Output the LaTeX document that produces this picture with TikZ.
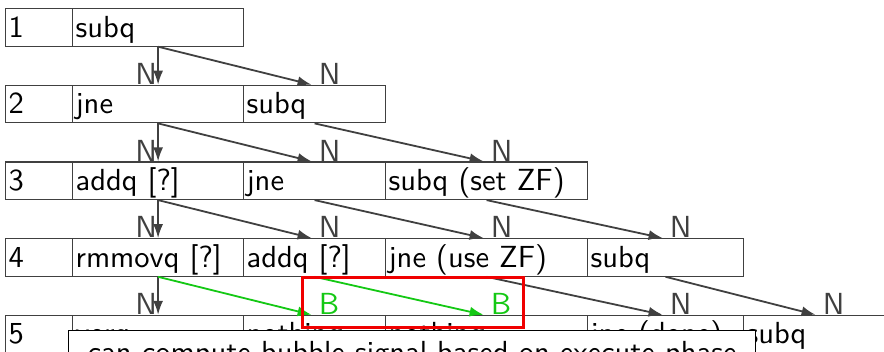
\documentclass[tikz,border=0pt]{standalone}
\usetikzlibrary{arrows.meta}
\definecolor{linegray}{RGB}{64,64,64}
\definecolor{bgreen}{RGB}{20,200,20}
\definecolor{hlred}{RGB}{240,0,0}
% Latin Modern Sans, 10pt design size, enlarged for slides
\font\slidefont="[lmsans10-regular]:mapping=tex-text" at 30.5pt
% one pipeline cell: name, left x, top y, width, text
\newcommand\pipecell[5]{%
  \node[cell, text width=#4pt-6pt] (#1) at (#2,#3) {#5};}
\begin{document}
\begin{tikzpicture}[x=1pt,y=-1pt,
  every node/.style={font=\slidefont},
  cell/.style={draw=linegray, line width=1.2pt, anchor=north west,
    inner xsep=3pt, inner ysep=0pt, minimum height=37.5pt,
    text height=28.4pt, text depth=9.1pt, align=left},
  arr/.style={draw=linegray, line width=1.8pt,
    -{Latex[length=14pt,width=10pt]}},
  barr/.style={arr, draw=bgreen},
  nlab/.style={text=linegray, inner sep=0pt},
  blab/.style={text=bgreen, inner sep=0pt},
  note/.style={draw=black, line width=1.2pt, fill=white, anchor=north west,
    inner xsep=16pt, inner ysep=0pt, text height=32pt, text depth=10pt,
    minimum width=687pt, align=left}]
\useasboundingbox (0,0) rectangle (884,351);
\clip (0,0) rectangle (884,351);

% column left edges: 5, 72, 243, 385, 587, 743
% row 1
\pipecell{r1c1}{5}{8}{67}{1}
\pipecell{r1c2}{72}{8}{171}{subq}
% row 2
\pipecell{r2c1}{5}{84.7}{67}{2}
\pipecell{r2c2}{72}{84.7}{171}{jne}
\pipecell{r2c3}{243}{84.7}{142}{subq}
% row 3
\pipecell{r3c1}{5}{161.4}{67}{3}
\pipecell{r3c2}{72}{161.4}{171}{addq [?]}
\pipecell{r3c3}{243}{161.4}{142}{jne}
\pipecell{r3c4}{385}{161.4}{202}{subq (set ZF)}
% row 4
\pipecell{r4c1}{5}{238.1}{67}{4}
\pipecell{r4c2}{72}{238.1}{171}{rmmovq [?]}
\pipecell{r4c3}{243}{238.1}{142}{addq [?]}
\pipecell{r4c4}{385}{238.1}{202}{jne (use ZF)}
\pipecell{r4c5}{587}{238.1}{156}{subq}
% row 5
\pipecell{r5c1}{5}{314.8}{67}{5}
\pipecell{r5c2}{72}{314.8}{171}{xorq}
\pipecell{r5c3}{243}{314.8}{142}{nothing}
\pipecell{r5c4}{385}{314.8}{202}{nothing}
\pipecell{r5c5}{587}{314.8}{156}{jne (done)}
\pipecell{r5c6}{743}{314.8}{150}{subq}

% straight-down forwarding arrows
\foreach \a/\b in {1/2,2/3,3/4,4/5}{
  \draw[arr] (r\a c2.south) -- (r\b c2.north);
  \node[nlab, anchor=south east] (nd\a) at ([xshift=-1pt]r\b c2.north) {N};
}
% diagonal arrows (no bubble)
\foreach \a/\b/\c/\d in {1/2/2/3, 2/3/2/3, 2/3/3/4, 3/4/2/3, 3/4/3/4, 3/4/4/5, 4/5/4/5, 4/5/5/6}{
  \draw[arr] (r\a c\c.south) -- ([xshift=-3pt]r\b c\d.north);
  \node[nlab, anchor=south west] (n\a\c) at ([xshift=4pt]r\b c\d.north) {N};
}
% bubble arrows
\foreach \c/\d in {2/3, 3/4}{
  \draw[barr] (r4c\c.south) -- ([xshift=-3pt]r5c\d.north);
  \node[blab, anchor=south west] (b\c) at ([xshift=4pt]r5c\d.north) {B};
}

% highlight around the bubble signals
\draw[hlred, line width=3pt] (302,277) rectangle (523,327.5);

% remark box over the last row
\node[note] (remark) at (68,330) {can compute bubble signal based on execute phase};
\end{tikzpicture}
\end{document}
